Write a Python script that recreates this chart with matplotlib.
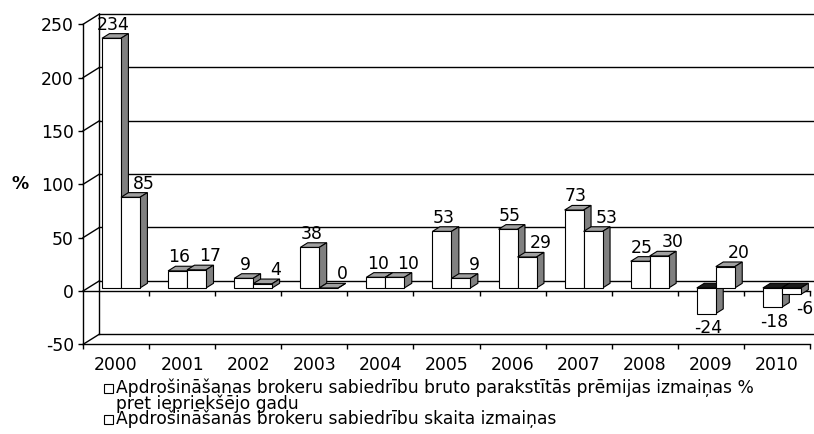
import matplotlib
matplotlib.use("Agg")
import matplotlib.pyplot as plt
from matplotlib.patches import Polygon, Rectangle
import numpy as np

# ---------------- data ----------------
years = ["2000", "2001", "2002", "2003", "2004", "2005",
         "2006", "2007", "2008", "2009", "2010"]
premium_change = [234, 16, 9, 38, 10, 53, 55, 73, 25, -24, -18]
count_change = [85, 17, 4, 0, 10, 9, 29, 53, 30, 20, -6]
series_names = [
    "Apdrošināšanas brokeru sabiedrību bruto parakstītās prēmijas izmaiņas %\npret iepriekšējo gadu",
    "Apdrošināšanas brokeru sabiedrību skaita izmaiņas",
]
y_ticks = [-50, 0, 50, 100, 150, 200, 250]
y_label = "%"

# ---------------- style ----------------
plt.rcParams['font.family'] = ['DejaVu Sans']
FS = 12.4
FIG_W, FIG_H = 814, 434
fig = plt.figure(figsize=(FIG_W / 100, FIG_H / 100), dpi=100)
ax = fig.add_axes([83 / FIG_W, (FIG_H - 344.4) / FIG_H, 727 / FIG_W, 320.1 / FIG_H])
ax.set_xlim(-0.5, len(years) - 0.5)
ax.set_ylim(y_ticks[0], y_ticks[-1])

# 3D depth vector (in data units)
DX = 16.5 / 66.1
DY = 10.3 / 1.067
D_FRONT, D_BACK = 0.3, 0.75
BAR_W = 0.2875

def P(x, v, d):
    return (x + d * DX, v + d * DY)

LW = 1.0
# back wall gridlines and side wall diagonals
for v in y_ticks:
    ax.plot([P(-0.5, v, 1)[0], P(len(years) - 0.5, v, 1)[0]],
            [P(-0.5, v, 1)[1]] * 2, color='black', lw=LW, clip_on=False, zorder=1)
    ax.plot([-0.5, P(-0.5, v, 1)[0]], [v, P(-0.5, v, 1)[1]],
            color='black', lw=LW, clip_on=False, zorder=1)
# back wall left edge
ax.plot([P(-0.5, y_ticks[0], 1)[0]] * 2,
        [P(-0.5, y_ticks[0], 1)[1], P(-0.5, y_ticks[-1], 1)[1]],
        color='black', lw=LW, clip_on=False, zorder=1)

# front floor line at zero with ticks
ax.plot([-0.5, len(years) - 0.5], [0, 0], color='black', lw=LW, clip_on=False, zorder=2)
bounds = np.arange(-0.5, len(years), 1.0)
ax.vlines(bounds[1:], -4.7, 0, color='black', lw=LW, clip_on=False, zorder=2)

# ---------------- bars ----------------
TOP_C, SIDE_C, NEG_TOP_C = '#a0a0a0', '#808080', '#1a1a1a'
EC = 'black'
ELW = 0.8

def draw_bar(x0, v, z):
    x1 = x0 + BAR_W
    top_v = max(v, 0)
    lo_v = min(v, 0)
    top = [P(x0, top_v, D_FRONT), P(x1, top_v, D_FRONT),
           P(x1, top_v, D_BACK), P(x0, top_v, D_BACK)]
    ax.add_patch(Polygon(top, closed=True, facecolor=(NEG_TOP_C if v < 0 else TOP_C),
                         edgecolor=EC, lw=ELW, zorder=z, clip_on=False))
    side = [P(x1, lo_v, D_FRONT), P(x1, lo_v, D_BACK),
            P(x1, top_v, D_BACK), P(x1, top_v, D_FRONT)]
    ax.add_patch(Polygon(side, closed=True, facecolor=SIDE_C,
                         edgecolor=EC, lw=ELW, zorder=z, clip_on=False))
    fx, fy = P(x0, lo_v, D_FRONT)
    ax.add_patch(Rectangle((fx, fy), BAR_W, top_v - lo_v, facecolor='white',
                           edgecolor=EC, lw=ELW, zorder=z, clip_on=False))

LABEL_DX = [0.03, 0.2]
series = [premium_change, count_change]
z = 3
for i in range(len(years)):
    for s, vals in enumerate(series):
        v = vals[i]
        x0 = i - BAR_W + s * BAR_W
        draw_bar(x0, v, z)
        z += 0.01
        cx = x0 + BAR_W / 2 + D_FRONT * DX + LABEL_DX[s]
        if v >= 0:
            ax.annotate(f"{v}", (cx, v + D_BACK * DY), xytext=(0, 0),
                        textcoords='offset points', ha='center', va='bottom',
                        fontsize=FS, zorder=10, annotation_clip=False)
        else:
            ax.annotate(f"{v}", (cx, v + D_FRONT * DY), xytext=(0, -4),
                        textcoords='offset points', ha='center', va='top',
                        fontsize=FS, zorder=10, annotation_clip=False)

# ---------------- axes ----------------
for side in ['top', 'right']:
    ax.spines[side].set_visible(False)
ax.spines['left'].set_linewidth(LW)
ax.spines['bottom'].set_linewidth(LW)
ax.set_yticks(y_ticks)
ax.set_yticklabels([str(t) for t in y_ticks])
ax.tick_params(axis='y', length=3.6, width=LW, direction='out', labelsize=FS, pad=3)
ax.set_xticks(range(len(years)))
ax.set_xticklabels(years)
ax.set_xticks(bounds, minor=True)
ax.tick_params(axis='x', which='major', length=0, labelsize=FS, pad=8)
ax.tick_params(axis='x', which='minor', length=3.6, width=LW, direction='out')
ax.set_ylabel(y_label, rotation=0, fontweight='bold', fontsize=FS)
ax.yaxis.set_label_coords((20 - 83) / 727, 0.5)
ax.yaxis.label.set_verticalalignment('center')
ax.yaxis.label.set_horizontalalignment('center')
ax.set_facecolor('none')

# ---------------- legend ----------------
LEG_FS = 12.3
leg_rows = [388, 419]
for k, name in enumerate(series_names):
    yc = leg_rows[k]
    fig.patches.append(Rectangle((104 / FIG_W, 1 - (yc + 4.5) / FIG_H), 9 / FIG_W, 9 / FIG_H,
                                 transform=fig.transFigure, facecolor='white',
                                 edgecolor='black', lw=0.8))
    for j, ln in enumerate(name.split('\n')):
        fig.text(116 / FIG_W, 1 - (yc + j * 16) / FIG_H, ln, ha='left', va='center',
                 fontsize=LEG_FS)

fig.savefig("out.png", dpi=100)
